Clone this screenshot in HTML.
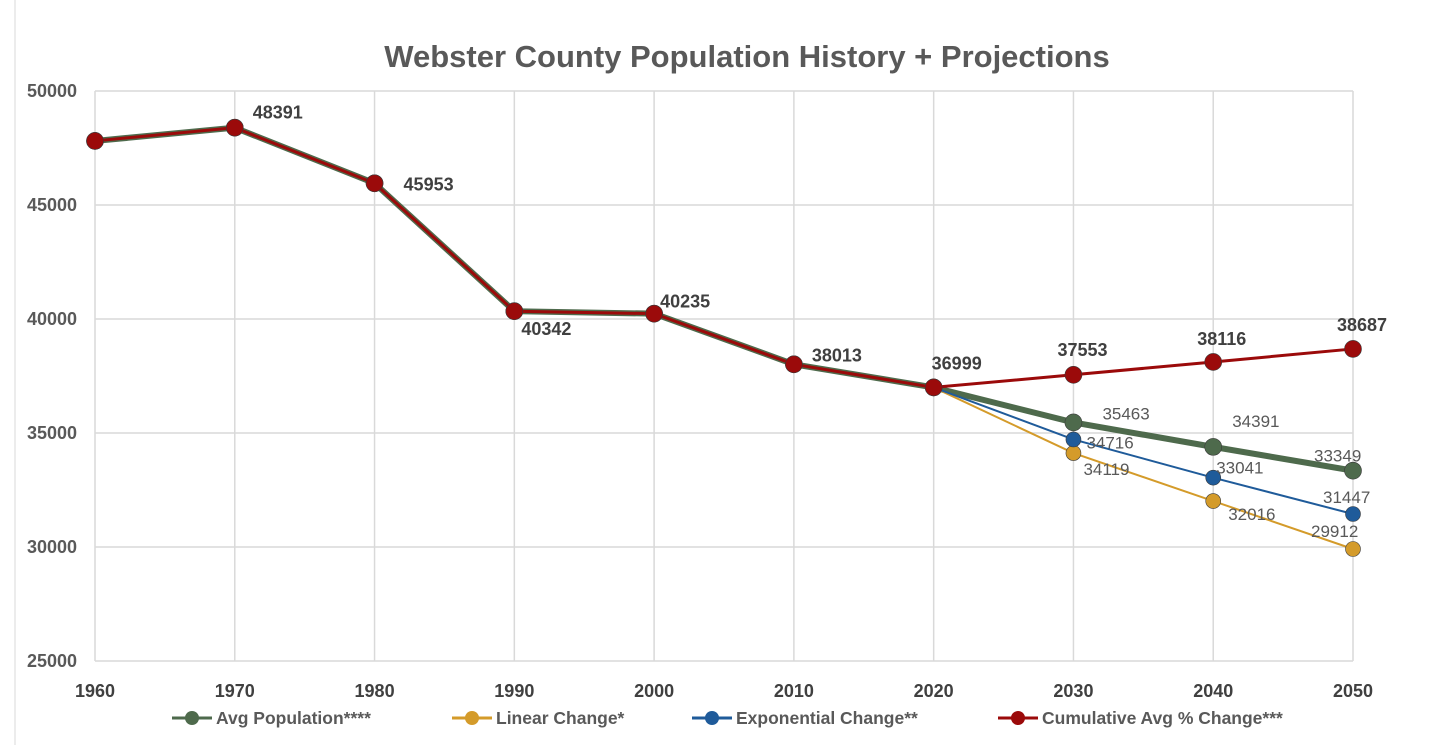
<!DOCTYPE html>
<html><head><meta charset="utf-8"><style>
body{margin:0;background:#fff;}
svg{display:block;font-family:"Liberation Sans",sans-serif;}
</style></head><body>
<svg id="chart" width="1442" height="745">
<line x1="15" y1="0" x2="15" y2="745" stroke="#d9d9d9"/>
<text x="747" y="67" text-anchor="middle" font-size="31" font-weight="bold" fill="#595959">Webster County Population History + Projections</text>
<g id="grid"></g><g id="series"></g><g id="labels"></g><g id="legend"></g>
</svg>
<script>
const years=["1960","1970","1980","1990","2000","2010","2020","2030","2040","2050"];
const yTicks=[25000,30000,35000,40000,45000,50000];
const avgPop=[47810,48391,45953,40342,40235,38013,36999,35463,34391,33349];
const linear=[null,null,null,null,null,null,36999,34119,32016,29912];
const expo=[null,null,null,null,null,null,36999,34716,33041,31447];
const cumul=[47810,48391,45953,40342,40235,38013,36999,37553,38116,38687];
const NS="http://www.w3.org/2000/svg";
const X0=95,X1=1353,Y0=661,Y1=91;
const xs=i=>X0+(X1-X0)*i/(years.length-1);
const ys=v=>Y0-(v-25000)/25000*(Y0-Y1);
function mk(tag,attrs,parent){const e=document.createElementNS(NS,tag);for(const k in attrs)e.setAttribute(k,attrs[k]);parent.appendChild(e);return e;}
const grid=document.getElementById('grid');
yTicks.forEach(t=>{
 const l=mk('line',{x1:X0,x2:X1,y1:ys(t),y2:ys(t),stroke:'#d9d9d9','stroke-width':1.5},grid);
 
 
 const tx=mk('text',{x:77,y:ys(t)+6,'text-anchor':'end','font-size':18,'font-weight':'bold',fill:'#595959'},grid);
 tx.textContent=t;
 
 
});
years.forEach((y,i)=>{
 const l=mk('line',{x1:xs(i),x2:xs(i),y1:Y1,y2:Y0,stroke:'#d9d9d9','stroke-width':1.5},grid);
 
 
 const tx=mk('text',{x:xs(i),y:697,'text-anchor':'middle','font-size':18,'font-weight':'bold',fill:'#404040'},grid);
 tx.textContent=y;
 
 
});
const series=[
 {name:'avg-population',vals:avgPop,color:'#4e6a4c',w:6,r:8.5},
 {name:'linear-change',vals:linear,color:'#d49b2a',w:2,r:7.5},
 {name:'exponential-change',vals:expo,color:'#1f5b9a',w:2,r:7.5},
 {name:'cumulative-avg-change',vals:cumul,color:'#9b0a0a',w:3,r:8.5}
];
const sg=document.getElementById('series');
series.forEach(s=>{
 let d='';s.vals.forEach((v,i)=>{if(v==null)return;d+=(d?'L':'M')+xs(i)+','+ys(v);});
 const p=mk('path',{d:d,fill:'none',stroke:s.color,'stroke-width':s.w},sg);
 
 
 s.vals.forEach((v,i)=>{if(v==null)return;
  const c=mk('circle',{cx:xs(i),cy:ys(v),r:s.r,fill:s.color,stroke:'#3a3a3a','stroke-width':0.6},sg);
  
  
 });
});
const lg=document.getElementById('labels');
function lab(vals,i,dx,dy,bold,name){
 const t=mk('text',{x:xs(i)+dx,y:ys(vals[i])+dy+6,'font-size':bold?18:17,'font-weight':bold?'bold':'normal',fill:bold?'#404040':'#595959'},lg);
 t.textContent=vals[i];
 
 
}
lab(cumul,1,18,-15,1,'label-1970');lab(cumul,2,29,1,1,'label-1980');lab(cumul,3,7,18,1,'label-1990');
lab(cumul,4,6,-12,1,'label-2000');lab(cumul,5,18,-9,1,'label-2010');lab(cumul,6,-2,-24,1,'label-2020');
lab(cumul,7,-16,-25,1,'label-cumul-2030');lab(cumul,8,-16,-23,1,'label-cumul-2040');lab(cumul,9,-16,-24,1,'label-cumul-2050');
lab(avgPop,7,29,-9,0,'label-avg-2030');lab(avgPop,8,19,-26,0,'label-avg-2040');lab(avgPop,9,-39,-15,0,'label-avg-2050');
lab(expo,7,13,3,0,'label-exp-2030');lab(expo,8,3,-10,0,'label-exp-2040');lab(expo,9,-30,-17,0,'label-exp-2050');
lab(linear,7,10,16,0,'label-lin-2030');lab(linear,8,15,13,0,'label-lin-2040');lab(linear,9,-42,-18,0,'label-lin-2050');
const leg=document.getElementById('legend');
const legItems=[['Avg Population****',172,'#4e6a4c'],['Linear Change*',452,'#d49b2a'],['Exponential Change**',692,'#1f5b9a'],['Cumulative Avg % Change***',998,'#9b0a0a']];
legItems.forEach(([t,x,c])=>{
 const g=mk('g',{},leg);
 
 
 mk('line',{x1:x,x2:x+40,y1:718,y2:718,stroke:c,'stroke-width':3},g);
 mk('circle',{cx:x+20,cy:718,r:7,fill:c},g);
 const tx=mk('text',{x:x+44,y:724,'font-size':17.5,'font-weight':'bold',fill:'#595959'},g);
 tx.textContent=t;
});
</script>
</body></html>
